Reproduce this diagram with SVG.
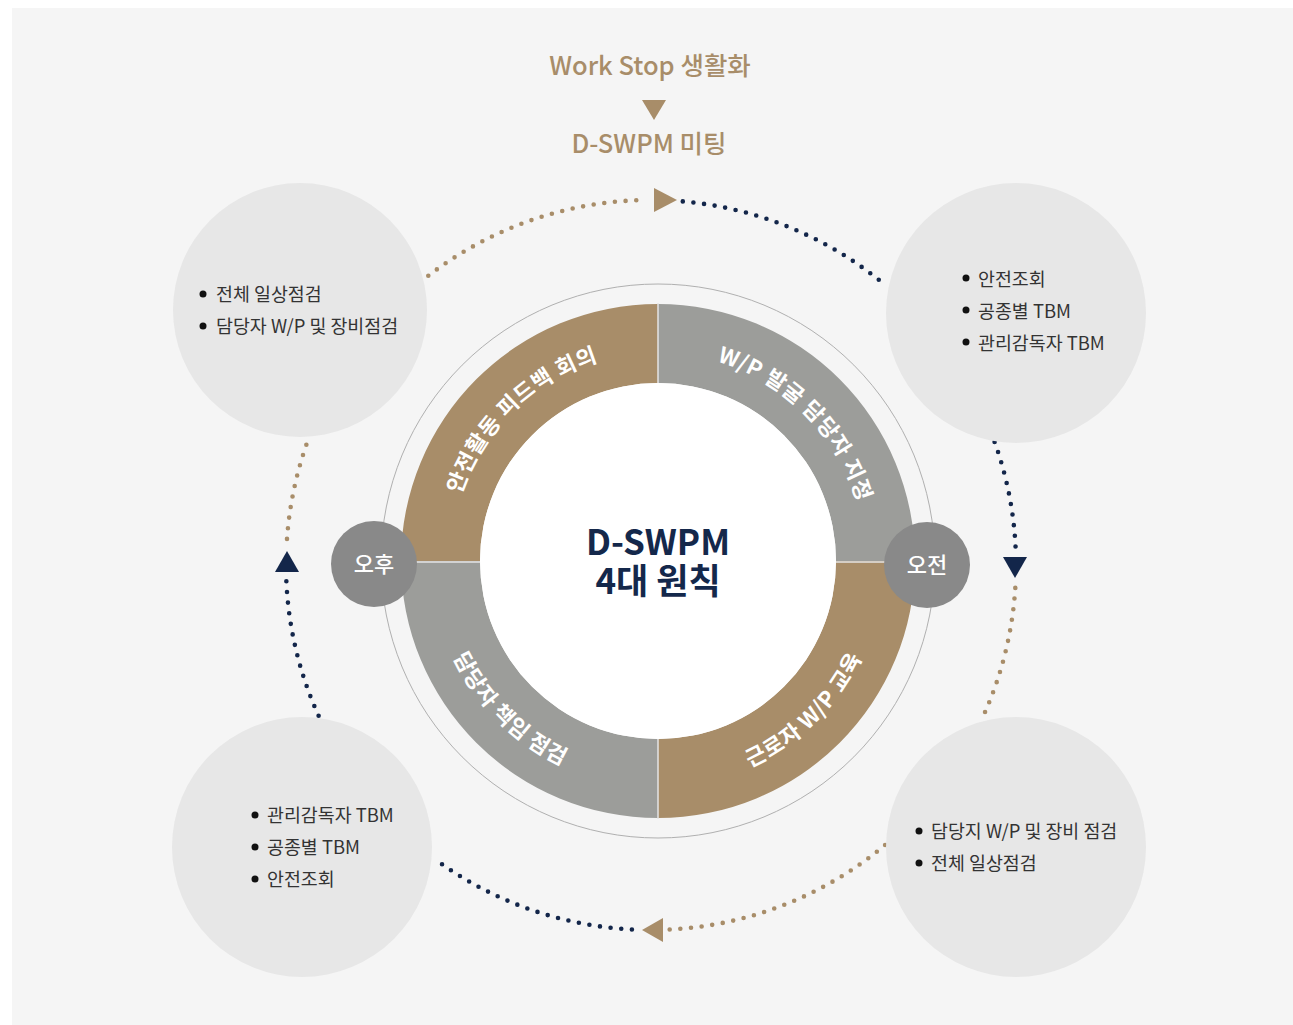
<svg xmlns="http://www.w3.org/2000/svg" width="1293" height="1025" viewBox="0 0 1293 1025">
  <defs>
    <style>
      .bg { fill: #f5f5f5; }
      .big { fill: #e7e7e7; }
      .item { font-family: "Noto Sans CJK KR", "Noto Sans", sans-serif; font-size: 18.4px; fill: #333333; }
      .dot { fill: #111111; }
      .title { font-family: "Noto Sans CJK KR", "Noto Sans", sans-serif; font-size: 25.5px; font-weight: 500; fill: #a88d69; text-anchor: middle; }
      .ringtxt { font-family: "Noto Sans CJK KR", "Noto Sans", sans-serif; font-size: 22px; font-weight: 700; fill: #ffffff; text-anchor: middle; letter-spacing: 0.6px; }
      .center { font-family: "Noto Sans CJK KR", "Noto Sans", sans-serif; font-size: 35px; font-weight: 700; fill: #14284b; text-anchor: middle; }
      .time { fill: #898989; }
      .timetxt { font-family: "Noto Sans CJK KR", "Noto Sans", sans-serif; font-size: 22px; font-weight: 500; fill: #ffffff; text-anchor: middle; }
      .brown { fill: #a88d69; }
      .gray { fill: #9c9d9a; }
      .dots { fill: none; stroke-width: 4.6; stroke-linecap: round; stroke-dasharray: 0 10.7; }
      .db { stroke: #a88d69; }
      .dn { stroke: #13264a; }
      .navyfill { fill: #13264a; }
    </style>
    <path id="topArc" d="M 450,561 A 208,208 0 1 1 866,561 A 208,208 0 1 1 450,561"/>
    <path id="botArc" d="M 432,561 A 226,226 0 0 0 884,561"/>
  </defs>

  <rect class="bg" x="12" y="8" width="1281" height="1017"/>

  <g id="header">
    <text class="title" x="650" y="75">Work Stop 생활화</text>
    <polygon class="brown" points="642,100 666,100 654,120"/>
    <text class="title" x="649" y="153">D-SWPM 미팅</text>
  </g>

  <g id="connectors">
    <path class="dots db" d="M 428.3,275.8 A 365,365 0 0 1 642.1,200.1"/>
    <polygon class="brown" points="654,188 677,200 654,212"/>
    <path class="dots dn" d="M 682.8,201.4 A 365,365 0 0 1 886.6,286.2"/>

    <path class="dots dn" d="M 994.6,441.9 A 365,365 0 0 1 1015.6,547.8"/>
    <polygon class="navyfill" points="1003,557 1027,557 1015,578"/>
    <path class="dots db" d="M 1015.3,587.9 A 365,365 0 0 1 982.6,717.5"/>

    <path class="dots db" d="M 885.1,845.0 A 365,365 0 0 1 668.2,929.6"/>
    <polygon class="brown" points="663,918 642,930 663,942"/>
    <path class="dots dn" d="M 631.9,929.5 A 365,365 0 0 1 434.4,858.8"/>

    <path class="dots dn" d="M 318.6,715.8 A 365,365 0 0 1 286.2,577.1"/>
    <polygon class="navyfill" points="275,572 299,572 287,551"/>
    <path class="dots db" d="M 287.0,538.9 A 365,365 0 0 1 308.0,440.2"/>
  </g>

  <g id="principles">
    <circle cx="658" cy="561" r="277" fill="#f5f5f5" stroke="#b0b0b0" stroke-width="1"/>
    <path class="brown" d="M 401,561 A 257,257 0 0 1 658,304 L 658,383 A 178,178 0 0 0 480,561 Z"/>
    <path class="gray" d="M 658,304 A 257,257 0 0 1 915,561 L 836,561 A 178,178 0 0 0 658,383 Z"/>
    <path class="brown" d="M 915,561 A 257,257 0 0 1 658,818 L 658,739 A 178,178 0 0 0 836,561 Z"/>
    <path class="gray" d="M 658,818 A 257,257 0 0 1 401,561 L 480,561 A 178,178 0 0 0 658,739 Z"/>
    <line x1="658" y1="303" x2="658" y2="384" stroke="#e4e4e4" stroke-width="1.5"/>
    <line x1="658" y1="738" x2="658" y2="819" stroke="#e4e4e4" stroke-width="1.5"/>
    <line x1="400" y1="562" x2="481" y2="562" stroke="#e4e4e4" stroke-width="1.5"/>
    <line x1="835" y1="562" x2="916" y2="562" stroke="#e4e4e4" stroke-width="1.5"/>
    <circle cx="658" cy="561" r="178" fill="#ffffff"/>
    <text class="ringtxt"><textPath href="#topArc" startOffset="167">안전활동 피드백 회의</textPath></text>
    <text class="ringtxt"><textPath href="#topArc" startOffset="490">W/P 발굴 담당자 지정</textPath></text>
    <text class="ringtxt"><textPath href="#botArc" startOffset="177.5">담당자 책임 점검</textPath></text>
    <text class="ringtxt"><textPath href="#botArc" startOffset="530">근로자 W/P 교육</textPath></text>
    <text class="center" x="658" y="555">D-SWPM</text>
    <text class="center" x="658" y="594">4대 원칙</text>
  </g>

  <g id="am">
    <circle class="time" cx="927" cy="565" r="43"/>
    <text class="timetxt" x="927" y="573">오전</text>
  </g>
  <g id="pm">
    <circle class="time" cx="374" cy="564" r="43"/>
    <text class="timetxt" x="374" y="572">오후</text>
  </g>

  <g id="node-topleft">
    <circle class="big" cx="300" cy="310" r="127"/>
    <circle class="dot" cx="203" cy="294" r="3.5"/>
    <text class="item" x="216" y="301">전체 일상점검</text>
    <circle class="dot" cx="203" cy="326" r="3.5"/>
    <text class="item" x="216" y="333">담당자 W/P 및 장비점검</text>
  </g>

  <g id="node-topright">
    <circle class="big" cx="1016" cy="313" r="130"/>
    <circle class="dot" cx="966" cy="278" r="3.5"/>
    <text class="item" x="978" y="286">안전조회</text>
    <circle class="dot" cx="966" cy="310" r="3.5"/>
    <text class="item" x="978" y="318">공종별 TBM</text>
    <circle class="dot" cx="966" cy="342" r="3.5"/>
    <text class="item" x="978" y="350">관리감독자 TBM</text>
  </g>

  <g id="node-bottomleft">
    <circle class="big" cx="302" cy="847" r="130"/>
    <circle class="dot" cx="255" cy="815" r="3.5"/>
    <text class="item" x="267" y="822">관리감독자 TBM</text>
    <circle class="dot" cx="255" cy="847" r="3.5"/>
    <text class="item" x="267" y="854">공종별 TBM</text>
    <circle class="dot" cx="255" cy="879" r="3.5"/>
    <text class="item" x="267" y="886">안전조회</text>
  </g>

  <g id="node-bottomright">
    <circle class="big" cx="1016" cy="847" r="130"/>
    <circle class="dot" cx="919" cy="831" r="3.5"/>
    <text class="item" x="931" y="838">담당지 W/P 및 장비 점검</text>
    <circle class="dot" cx="919" cy="863" r="3.5"/>
    <text class="item" x="931" y="870">전체 일상점검</text>
  </g>
</svg>
